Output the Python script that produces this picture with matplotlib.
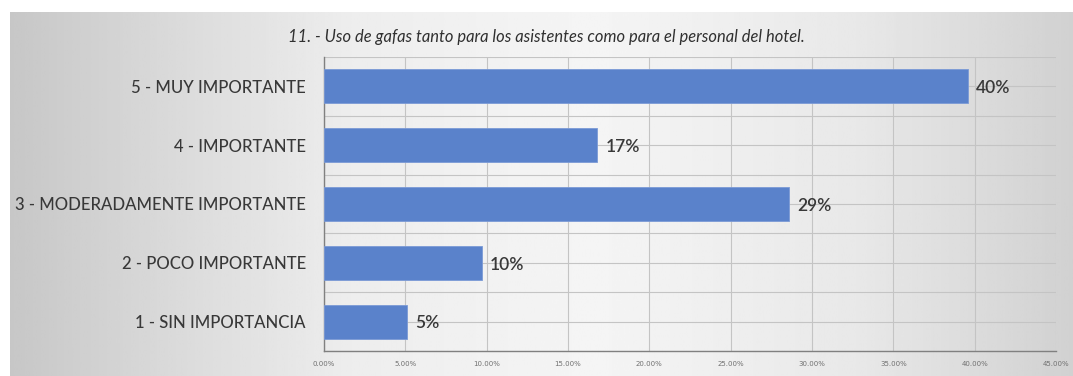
import matplotlib.pyplot as plt
import numpy as np
from matplotlib.ticker import PercentFormatter, MultipleLocator

# Survey question 11 - share of answers per importance level
categorias = [
    "1 - SIN IMPORTANCIA",
    "2 - POCO IMPORTANTE",
    "3 - MODERADAMENTE IMPORTANTE",
    "4 - IMPORTANTE",
    "5 - MUY IMPORTANTE",
]
porcentajes = [0.051, 0.097, 0.286, 0.168, 0.396]
titulo = "11. - Uso de gafas tanto para los asistentes como para el personal del hotel."

BAR_COLOR = "#5a82cb"
TEXT_COLOR = "#383838"
GRID_COLOR = "#c4c4c4"
FONT = "Lato"

fig = plt.figure(figsize=(10.73, 3.76), dpi=100)
fig.patch.set_facecolor("white")

# grey-white-grey backdrop behind the chart
bg = fig.add_axes([10 / 1073, 0, 1 - 10 / 1073, (376 - 12) / 376], zorder=-10)
xs = np.linspace(0, 1, 400)
shade = np.interp(xs, [0.0, 0.12, 0.32, 0.55, 0.8, 1.0],
                  [0.78, 0.84, 0.93, 0.96, 0.91, 0.82])
bg.imshow(shade[None, :], aspect="auto", cmap="gray", vmin=0, vmax=1,
          extent=[0, 1, 0, 1])
bg.axis("off")

ax = fig.add_axes([324 / 1073, 25 / 376, (1056 - 324) / 1073, (351 - 57) / 376])
ax.patch.set_alpha(0)

y = np.arange(len(categorias))
bars = ax.barh(y, porcentajes, height=0.58, color=BAR_COLOR,
               edgecolor="#7b9ad6", linewidth=0.6, zorder=3)

for b, v in zip(bars, porcentajes):
    ax.text(b.get_width() + 0.005, b.get_y() + b.get_height() / 2 - 0.03,
            f"{v:.0%}", va="center", ha="left", fontsize=12.5,
            color=TEXT_COLOR, family=FONT, weight="semibold", zorder=4)

ax.set_xlim(0, 0.45)
ax.set_ylim(-0.5, len(categorias) - 0.5)
ax.xaxis.set_major_locator(MultipleLocator(0.05))
ax.xaxis.set_major_formatter(PercentFormatter(1.0, decimals=2))
ax.yaxis.set_minor_locator(MultipleLocator(0.5))
ax.set_yticks(y)
ax.set_yticklabels(categorias, fontsize=12, color=TEXT_COLOR, family=FONT,
                   weight="medium")
ax.tick_params(axis="y", length=0, pad=13)
ax.tick_params(axis="y", which="minor", length=0)
ax.tick_params(axis="x", length=0, labelsize=5, labelcolor="#707070", pad=7)

ax.grid(True, which="both", color=GRID_COLOR, linewidth=0.8, zorder=0)
ax.set_axisbelow(True)
for side in ["top", "right"]:
    ax.spines[side].set_visible(False)
for side in ["left", "bottom"]:
    ax.spines[side].set_color("#808080")
    ax.spines[side].set_linewidth(1.0)

fig.text(546 / 1073, 1 - 37 / 376, titulo, ha="center", va="center",
         fontsize=11.9, style="italic", color="#303030", family=FONT)

fig.savefig("out.png", dpi=100)
